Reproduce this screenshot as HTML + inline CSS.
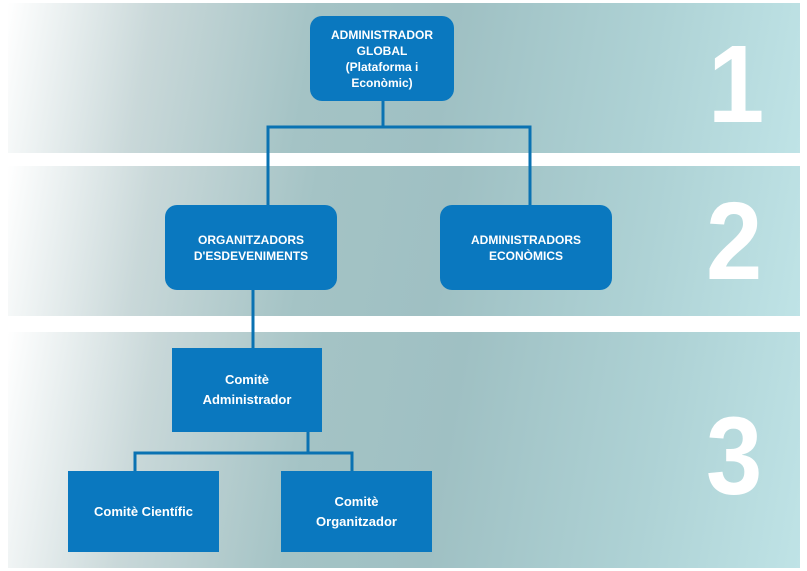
<!DOCTYPE html>
<html><head><meta charset="utf-8"><style>
body{margin:0;width:807px;height:571px;background:#fff;position:relative;overflow:hidden;font-family:"Liberation Sans",Arial,sans-serif}
.band{position:absolute;left:8px;width:792px;background:linear-gradient(100deg,#ffffff 0%,#c9d8d9 18%,#a4c3c5 38%,#9fc0c3 55%,#aed2d5 80%,#bfe3e6 100%)}
.box{position:absolute;background:#0a78bf;color:#fff;font-weight:bold;font-size:12px;line-height:16px;display:flex;align-items:center;justify-content:center;text-align:center}
.r{border-radius:12px}
.num{position:absolute;color:#fff;font-weight:bold;font-size:110px;line-height:1;font-family:"Liberation Sans",Arial,sans-serif;transform:scaleX(0.92);transform-origin:left top}
.sm{font-size:13px;line-height:20px}
</style></head><body>
<div class="band" style="top:3px;height:150px"></div>
<div class="band" style="top:166px;height:150px"></div>
<div class="band" style="top:332px;height:236px"></div>
<div class="num" style="left:708px;top:30px">1</div>
<div class="num" style="left:706px;top:187px">2</div>
<div class="num" style="left:706px;top:402px">3</div>
<svg width="807" height="571" style="position:absolute;left:0;top:0">
<g stroke="#0a72b2" stroke-width="3" fill="none">
<path d="M383 100V127M268 205V127H530V205"/>
<path d="M253 289V349"/>
<path d="M308 431V453M135 472V453H352V472"/>
</g></svg>
<div class="box r" style="left:310px;top:16px;width:144px;height:85px">ADMINISTRADOR<br>GLOBAL<br>(Plataforma i<br>Econòmic)</div>
<div class="box r" style="left:165px;top:205px;width:172px;height:85px">ORGANITZADORS<br>D'ESDEVENIMENTS</div>
<div class="box r" style="left:440px;top:205px;width:172px;height:85px">ADMINISTRADORS<br>ECONÒMICS</div>
<div class="box sm" style="left:172px;top:348px;width:150px;height:84px">Comitè<br>Administrador</div>
<div class="box sm" style="left:68px;top:471px;width:151px;height:81px">Comitè Científic</div>
<div class="box sm" style="left:281px;top:471px;width:151px;height:81px">Comitè<br>Organitzador</div>
</body></html>
